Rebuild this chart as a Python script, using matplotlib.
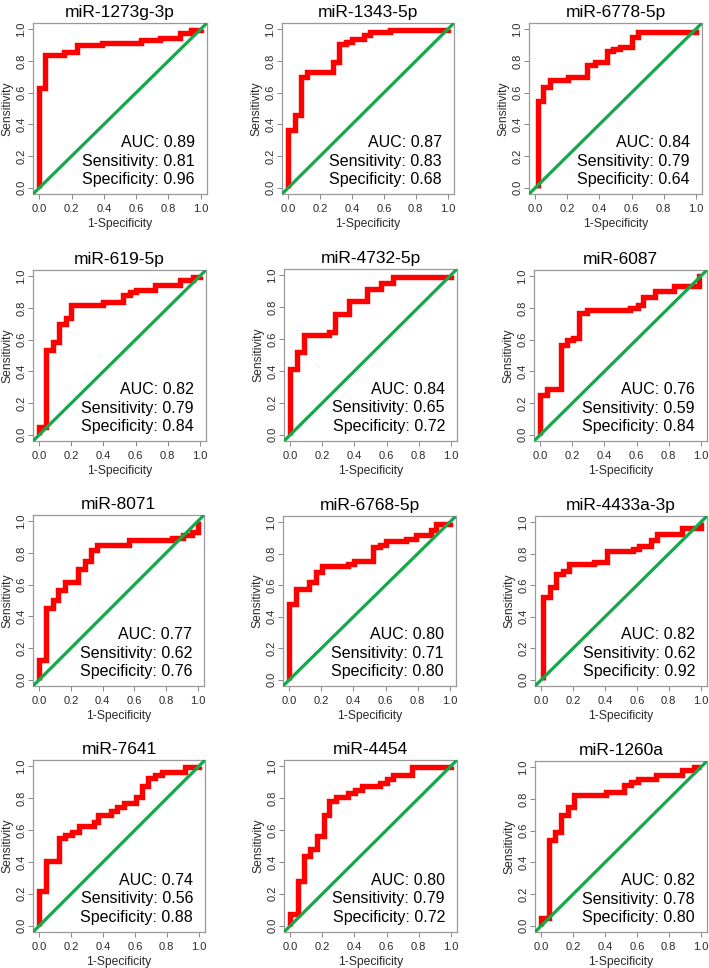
import matplotlib
matplotlib.use("Agg")
import matplotlib.pyplot as plt

plt.rcParams['font.family'] = ['Liberation Sans', 'DejaVu Sans']

titles = ["miR-1273g-3p", "miR-1343-5p", "miR-6778-5p",
          "miR-619-5p", "miR-4732-5p", "miR-6087",
          "miR-8071", "miR-6768-5p", "miR-4433a-3p",
          "miR-7641", "miR-4454", "miR-1260a"]

auc = ["0.89", "0.87", "0.84", "0.82", "0.84", "0.76",
       "0.77", "0.80", "0.82", "0.74", "0.80", "0.82"]
sens = ["0.81", "0.83", "0.79", "0.79", "0.65", "0.59",
        "0.62", "0.71", "0.62", "0.56", "0.79", "0.78"]
spec = ["0.96", "0.68", "0.64", "0.84", "0.72", "0.84",
        "0.76", "0.80", "0.92", "0.88", "0.72", "0.80"]

# ROC step vertices: at fpr[i] the curve rises to tpr[i]
fpr_1273 = [0.0, 0.037, 0.155, 0.234, 0.39, 0.63, 0.75, 0.87, 0.94, 1.0]
tpr_1273 = [0.627, 0.836, 0.857, 0.90, 0.916, 0.933, 0.947, 0.978, 0.995, 1.0]

fpr_1343 = [0.0, 0.041, 0.082, 0.12, 0.278, 0.32, 0.36, 0.40, 0.474, 0.515, 0.64, 1.0]
tpr_1343 = [0.366, 0.46, 0.697, 0.728, 0.795, 0.906, 0.922, 0.937, 0.962, 0.98, 0.996, 1.0]

fpr_6778 = [0.014, 0.045, 0.089, 0.206, 0.324, 0.371, 0.45, 0.485, 0.526, 0.604, 0.64, 1.0]
tpr_6778 = [0.55, 0.635, 0.683, 0.697, 0.777, 0.793, 0.86, 0.875, 0.89, 0.95, 0.98, 1.0]

fpr_619 = [0.0, 0.042, 0.083, 0.12, 0.163, 0.198, 0.396, 0.52, 0.563, 0.604, 0.72, 0.875, 0.958, 1.0]
tpr_619 = [0.048, 0.536, 0.586, 0.697, 0.738, 0.822, 0.837, 0.88, 0.90, 0.916, 0.943, 0.975, 0.994, 1.0]

fpr_4732 = [0.0, 0.041, 0.083, 0.243, 0.28, 0.363, 0.48, 0.564, 0.641, 1.0]
tpr_4732 = [0.41, 0.519, 0.627, 0.647, 0.755, 0.836, 0.913, 0.954, 0.99, 1.0]

fpr_6087 = [0.0, 0.04, 0.128, 0.165, 0.206, 0.243, 0.289, 0.557, 0.608, 0.64, 0.718, 0.835, 0.99, 1.0]
tpr_6087 = [0.25, 0.287, 0.568, 0.595, 0.613, 0.769, 0.786, 0.80, 0.82, 0.869, 0.91, 0.94, 1.0, 1.0]

fpr_8071 = [0.0, 0.042, 0.084, 0.121, 0.163, 0.247, 0.289, 0.324, 0.366, 0.565, 0.837, 0.91, 0.962, 1.0]
tpr_8071 = [0.125, 0.454, 0.502, 0.565, 0.617, 0.697, 0.747, 0.816, 0.851, 0.885, 0.895, 0.916, 0.935, 1.0]

fpr_6768 = [0.0, 0.04, 0.125, 0.167, 0.204, 0.365, 0.406, 0.52, 0.563, 0.604, 0.73, 0.79, 0.885, 0.917, 1.0]
tpr_6768 = [0.48, 0.575, 0.621, 0.684, 0.722, 0.736, 0.751, 0.841, 0.858, 0.879, 0.895, 0.92, 0.948, 0.99, 1.0]

fpr_4433 = [0.01, 0.052, 0.094, 0.135, 0.173, 0.333, 0.41, 0.573, 0.61, 0.6875, 0.729, 0.885, 1.0]
tpr_4433 = [0.523, 0.592, 0.674, 0.69, 0.732, 0.747, 0.816, 0.833, 0.851, 0.889, 0.925, 0.962, 1.0]

fpr_7641 = [0.0, 0.042, 0.121, 0.163, 0.204, 0.246, 0.344, 0.371, 0.448, 0.49, 0.531, 0.604, 0.646, 0.683, 0.729, 0.771, 0.917, 1.0]
tpr_7641 = [0.22, 0.408, 0.548, 0.569, 0.59, 0.628, 0.649, 0.695, 0.722, 0.743, 0.77, 0.805, 0.879, 0.927, 0.946, 0.962, 0.994, 1.0]

fpr_4454 = [0.0, 0.046, 0.083, 0.124, 0.166, 0.207, 0.244, 0.286, 0.362, 0.404, 0.445, 0.559, 0.60, 0.642, 0.76, 1.0]
tpr_4454 = [0.073, 0.282, 0.44, 0.481, 0.565, 0.695, 0.785, 0.805, 0.83, 0.851, 0.879, 0.895, 0.92, 0.946, 0.994, 1.0]

fpr_1260 = [0.0, 0.048, 0.083, 0.125, 0.167, 0.204, 0.406, 0.52, 0.5625, 0.604, 0.72, 0.881, 0.958, 1.0]
tpr_1260 = [0.048, 0.54, 0.592, 0.70, 0.749, 0.828, 0.843, 0.889, 0.91, 0.927, 0.952, 0.983, 1.0, 1.0]

curves = [(fpr_1273, tpr_1273), (fpr_1343, tpr_1343), (fpr_6778, tpr_6778),
          (fpr_619, tpr_619), (fpr_4732, tpr_4732), (fpr_6087, tpr_6087),
          (fpr_8071, tpr_8071), (fpr_6768, tpr_6768), (fpr_4433, tpr_4433),
          (fpr_7641, tpr_7641), (fpr_4454, tpr_4454), (fpr_1260, tpr_1260)]

W, H = 709, 968
fig = plt.figure(figsize=(W / 100, H / 100), dpi=100)

# axes boxes in pixels: (left, right, top, bottom)
boxes = [(33, 207, 23, 194), (282, 454, 23, 194), (529, 702, 23, 194),
         (33, 206, 270, 441), (284, 457, 269, 441), (534, 707, 270, 441),
         (33, 204, 515, 686), (283, 456, 516, 686), (535, 707, 516, 686),
         (33, 205, 760, 932), (284, 457, 760, 932), (535, 707, 761, 932)]

ticks = [0.0, 0.2, 0.4, 0.6, 0.8, 1.0]
tick_labels = ["0.0", "0.2", "0.4", "0.6", "0.8", "1.0"]

for i, (l, r, t, b) in enumerate(boxes):
    ax = fig.add_axes([l / W, 1 - b / H, (r - l) / W, (b - t) / H])
    fx, ty = curves[i]
    ax.plot([fx[0]] + fx, [0.0] + ty, drawstyle='steps-post', color='#ff0000',
            lw=3.9, solid_joinstyle='miter', solid_capstyle='butt', zorder=2)
    ax.axline((0, 0), (1, 1), color='#14a84a', lw=2.3, zorder=3)
    ax.set_xlim(-0.04, 1.04)
    ax.set_ylim(-0.04, 1.04)
    ax.set_xticks(ticks)
    ax.set_xticklabels(tick_labels)
    ax.set_yticks(ticks)
    ax.set_yticklabels(tick_labels, rotation=90, va='center')
    ax.tick_params(axis='both', labelsize=8, length=3.5, width=0.7,
                   color='#888888', labelcolor='#2a2a2a')
    ax.tick_params(axis='x', pad=3.5)
    ax.tick_params(axis='y', pad=1.2)
    for s in ax.spines.values():
        s.set_color('#999999')
        s.set_linewidth(0.9)
    ax.set_xlabel("1-Specificity", fontsize=8.7, color='#2a2a2a', labelpad=3)
    ax.set_ylabel("Sensitivity", fontsize=8.7, color='#2a2a2a', labelpad=2.5)
    ax.set_title(titles[i], fontsize=12.5, pad=4)
    ax.text(0.965, 0.285, "AUC: " + auc[i], ha='right', va='center', fontsize=11.5)
    ax.text(0.965, 0.168, "Sensitivity: " + sens[i], ha='right', va='center', fontsize=11.5)
    ax.text(0.965, 0.051, "Specificity: " + spec[i], ha='right', va='center', fontsize=11.5)

fig.savefig("out.png", dpi=100)
